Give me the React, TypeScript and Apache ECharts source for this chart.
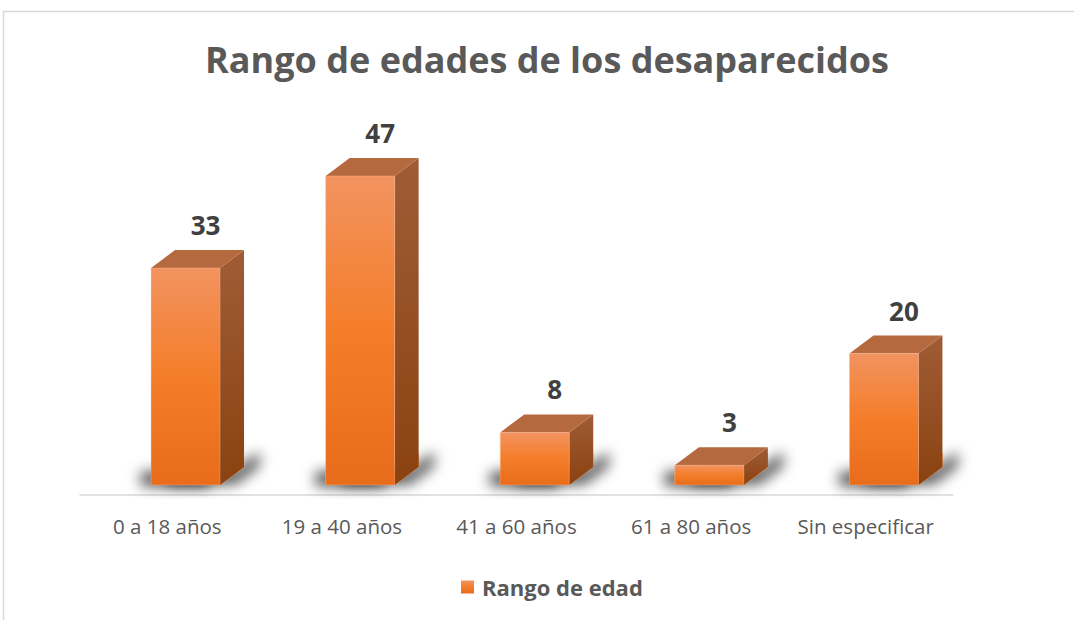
import React, { useEffect, useRef } from "react";
import * as echarts from "echarts";

// Chart content
const titleText = "Rango de edades de los desaparecidos";
const seriesName = "Rango de edad";
const categories = ["0 a 18 años", "19 a 40 años", "41 a 60 años", "61 a 80 años", "Sin especificar"];
const values = [33, 47, 8, 3, 20];

const FONT = "'Open Sans', Lato, sans-serif";

// 3D box geometry (pixels)
const DEPTH_X = 24;
const DEPTH_Y = -18;
const FLOOR_INSET = 10;

const frontGradient = () =>
  new echarts.graphic.LinearGradient(0, 0, 0, 1, [
    { offset: 0, color: "#F29360" },
    { offset: 0.5, color: "#F47D29" },
    { offset: 1, color: "#E86C1B" },
  ]);

const sideGradient = () =>
  new echarts.graphic.LinearGradient(0, 0, 0, 1, [
    { offset: 0, color: "#A05C36" },
    { offset: 1, color: "#8A4210" },
  ]);

function renderBox(params: any, api: any) {
  const idx = api.value(0);
  const val = api.value(1);
  const base = api.coord([idx, 0]);
  const topPt = api.coord([idx, val]);
  const band = api.size([1, 0])[0];
  const w = band * 0.395;
  const L = base[0] - band * 0.093;
  const R = L + w;
  const B = base[1] - FLOOR_INSET;
  const T = topPt[1] - FLOOR_INSET;
  const sh = Math.min(14, B - T);

  const children: any[] = [
    // soft floor shadow on the left (source hidden behind the front face)
    {
      type: "rect",
      shape: { x: L, y: B - sh, width: w, height: sh },
      style: {
        fill: "#E86C1B",
        shadowBlur: 14,
        shadowColor: "rgba(0,0,0,0.72)",
        shadowOffsetX: -10,
        shadowOffsetY: 1,
      },
    },
    // soft floor shadow on the right (source hidden behind the box)
    {
      type: "polygon",
      shape: {
        points: [
          [L, B],
          [R, B],
          [R + DEPTH_X, B + DEPTH_Y],
          [R + DEPTH_X, B + DEPTH_Y - sh],
          [R, B - sh],
          [L, B - sh],
        ],
      },
      style: {
        fill: "#E86C1B",
        shadowBlur: 14,
        shadowColor: "rgba(0,0,0,0.72)",
        shadowOffsetX: 15,
        shadowOffsetY: -1,
      },
    },
    // right side face
    {
      type: "polygon",
      shape: {
        points: [
          [R, T],
          [R + DEPTH_X, T + DEPTH_Y],
          [R + DEPTH_X, B + DEPTH_Y],
          [R, B],
        ],
      },
      style: { fill: sideGradient() },
    },
    // top face
    {
      type: "polygon",
      shape: {
        points: [
          [L, T],
          [L + DEPTH_X, T + DEPTH_Y],
          [R + DEPTH_X, T + DEPTH_Y],
          [R, T],
        ],
      },
      style: { fill: "#B5693F" },
    },
    // front face
    {
      type: "rect",
      shape: { x: L, y: T, width: w, height: B - T },
      style: { fill: frontGradient(), stroke: "rgba(255,190,150,0.45)", lineWidth: 0.8 },
    },
    // value label
    {
      type: "text",
      style: {
        text: String(val),
        x: (L + R) / 2 + 20,
        y: T - 43,
        textAlign: "center",
        textVerticalAlign: "middle",
        align: "center",
        verticalAlign: "middle",
        fill: "#404040",
        font: `bold 26px ${FONT}`,
      },
    },
  ];
  return { type: "group", children };
}

export default function App() {
  const ref = useRef<HTMLDivElement>(null);

  useEffect(() => {
    if (!ref.current) return;
    const chart = echarts.init(ref.current, null, { renderer: "svg" });
    chart.setOption({
      animation: false,
      backgroundColor: "#ffffff",
      graphic: [
        {
          type: "rect",
          silent: true,
          z: -10,
          shape: { x: 3.5, y: 11.5, width: 1200, height: 800 },
          style: { fill: "none", stroke: "#D9D9D9", lineWidth: 1.5 },
        },
        {
          type: "text",
          silent: true,
          x: 547,
          y: 59,
          style: {
            text: titleText,
            textAlign: "center",
            textVerticalAlign: "middle",
            align: "center",
            verticalAlign: "middle",
            fill: "#595959",
            font: `bold 36px ${FONT}`,
          },
        },
      ],
      legend: {
        data: [seriesName],
        left: 456,
        top: 571,
        icon: "rect",
        itemWidth: 13,
        itemHeight: 13,
        textStyle: {
          fontFamily: FONT,
          fontSize: 22,
          fontWeight: "bold",
          color: "#595959",
          padding: [0, 0, 0, 3],
        },
      },
      grid: { left: 80, right: 121, top: 166.25, bottom: 125 },
      xAxis: {
        type: "category",
        data: categories,
        axisLine: { lineStyle: { color: "#D9D9D9", width: 1.5 } },
        axisTick: { show: false },
        axisLabel: {
          interval: 0,
          hideOverlap: false,
          margin: 20,
          fontFamily: FONT,
          fontSize: 20.5,
          color: "#595959",
        },
      },
      yAxis: { type: "value", min: 0, max: 50, show: false },
      series: [
        {
          type: "custom",
          name: seriesName,
          data: values.map((v, i) => [i, v]),
          encode: { x: 0, y: 1 },
          itemStyle: { color: frontGradient() },
          renderItem: renderBox,
        },
      ],
    });
    return () => chart.dispose();
  }, []);

  return (
    <div
      ref={ref}
      style={{ position: "fixed", left: 0, top: 0, width: 1074, height: 620 }}
    />
  );
}
